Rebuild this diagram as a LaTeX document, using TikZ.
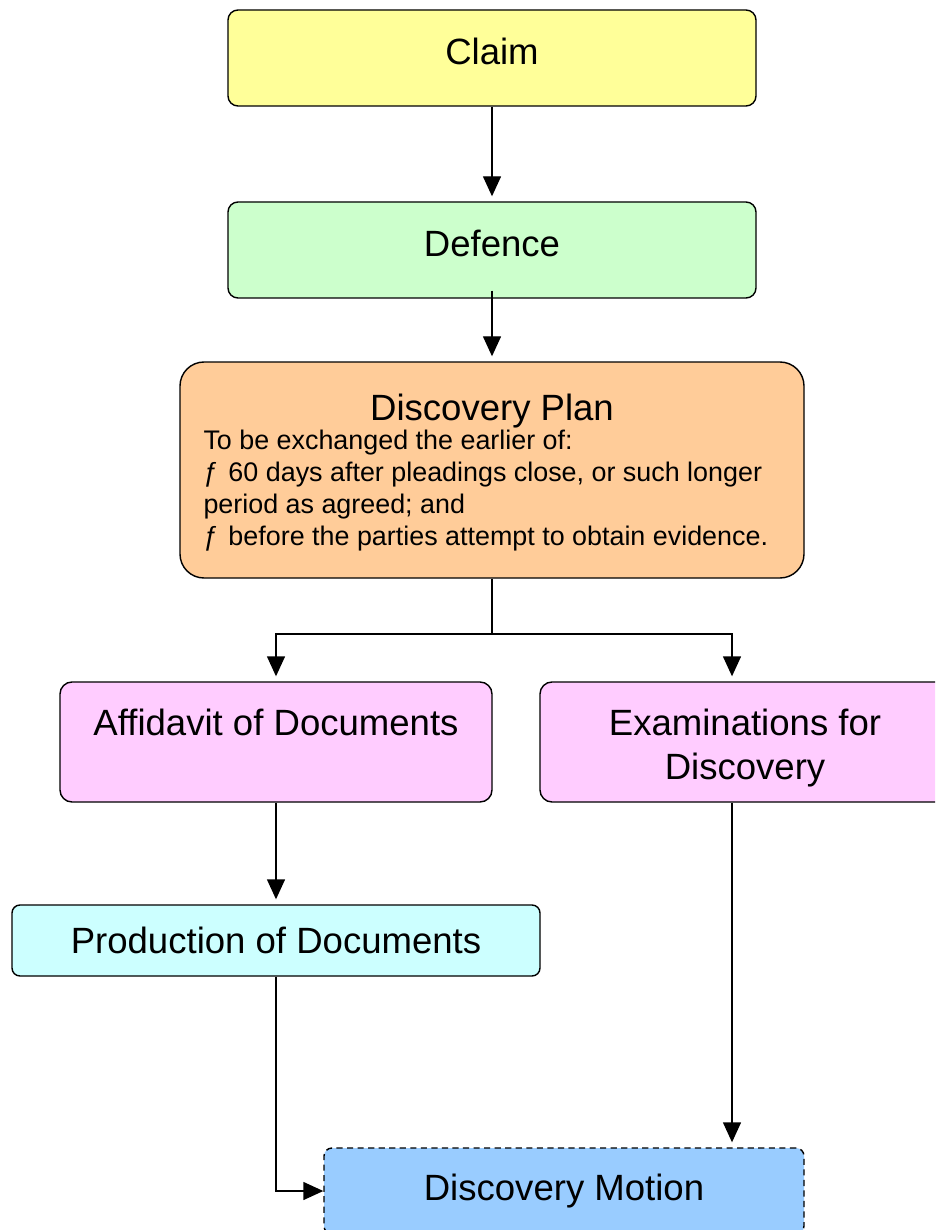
\documentclass[tikz,border=0pt]{standalone}
\usepackage{fontspec}
\setmainfont{Liberation Sans}
\usetikzlibrary{arrows.meta}
\definecolor{claimyellow}{HTML}{FFFF99}
\definecolor{defencegreen}{HTML}{CCFFCC}
\definecolor{planorange}{HTML}{FFCC99}
\definecolor{stagepink}{HTML}{FFCCFF}
\definecolor{prodcyan}{HTML}{CCFFFF}
\definecolor{motionblue}{HTML}{99CCFF}
\newcommand{\titlesize}{\fontsize{20.8}{25}\selectfont}
\newcommand{\notesize}{\fontsize{15.3}{18.3}\selectfont}
\newcommand{\flor}{\makebox[0.5cm][l]{ƒ}}

\begin{document}
\begin{tikzpicture}[
		box/.style={draw=black, line width=0.8pt, rounded corners=0.2cm, font=\titlesize, align=center, inner sep=0pt},
		topbox/.style={box, text height=15.2pt, text depth=8pt},
		stagebox/.style={box, fill=stagepink, rounded corners=0.24cm, minimum height=2.4cm, text height=46pt, text depth=3.6pt},
		link/.style={line width=0.8pt},
		arrow/.style={link, -{Triangle[length=0.4cm, width=0.36cm]}, shorten >=0.1cm}
	]
		%%%%% START %%%%%
		\useasboundingbox (0, 0) rectangle (18.7, -24.6);
		\clip (0, 0) rectangle (18.7, -24.6);
		
		\node[topbox, fill=claimyellow, minimum width=10.56cm, minimum height=1.92cm] (claim) at (9.84, -1.16) {Claim};
		\node[topbox, fill=defencegreen, minimum width=10.56cm, minimum height=1.92cm] (defence) at (9.84, -5.0) {Defence};
		
		\node[box, fill=planorange, rounded corners=0.48cm, minimum width=12.48cm, minimum height=4.32cm, font=\notesize, align=left, text depth=-1.2pt] (plan) at (9.84, -9.4)
			{\makebox[11.54cm]{\titlesize Discovery Plan}\\[-2pt]
			To be exchanged the earlier of:\\
			\flor 60 days after pleadings close, or such longer\\
			period as agreed; and\\
			\flor before the parties attempt to obtain evidence.};
		
		\node[stagebox, minimum width=8.64cm] (affidavit) at (5.52, -14.84) {Affidavit of Documents\\\mbox{}};
		\node[stagebox, minimum width=8.2cm] (exam) at (14.9, -14.84) {Examinations for\\Discovery};
		
		\node[box, fill=prodcyan, rounded corners=0.16cm, minimum width=10.56cm, minimum height=1.42cm] (production) at (5.52, -18.81) {Production of Documents};
		\node[box, fill=motionblue, rounded corners=0.16cm, dash pattern=on 3.5pt off 2.5pt, minimum width=9.6cm, minimum height=1.72cm] (motion) at (11.28, -23.82) {Discovery Motion};
		
		\coordinate (split) at (9.84, -12.68);
		
		\draw[arrow] (claim) -- (defence);
		\draw[arrow, shorten <=-0.16cm] (defence) -- (plan);
		\draw[link] (plan) -- (split);
		\draw[arrow] (split) -| (affidavit);
		\draw[arrow] (split) -| ([xshift=-0.26cm]exam.north);
		\draw[arrow] (affidavit) -- (production);
		\draw[arrow, shorten >=0pt] (production) |- (motion);
		\draw[arrow] ([xshift=-0.26cm]exam.south) -- ([xshift=-0.26cm]exam.south |- motion.north);
		%%%%% END %%%%%
	\end{tikzpicture}
\end{document}
